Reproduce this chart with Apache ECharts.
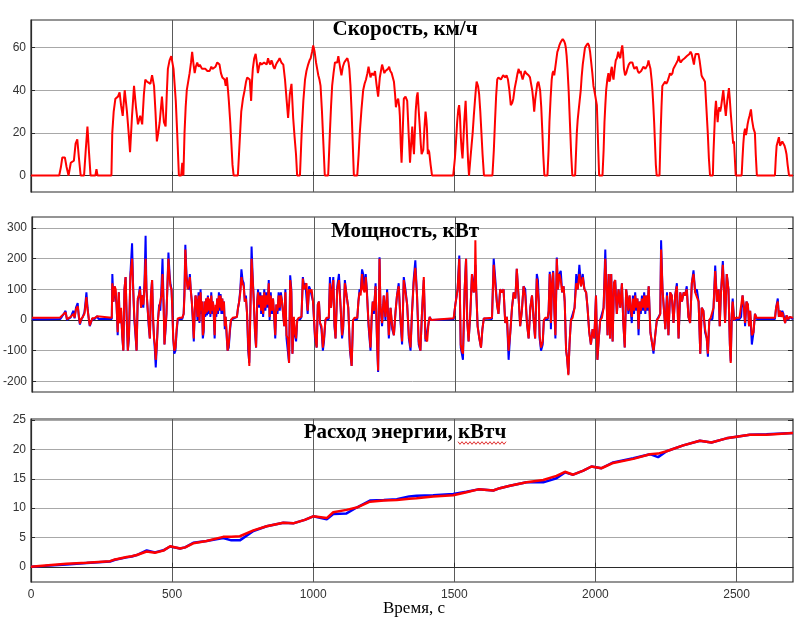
<!DOCTYPE html>
<html>
<head>
<meta charset="utf-8">
<script src="https://cdn.jsdelivr.net/npm/echarts@6/dist/echarts.min.js"></script>
<style>
  html, body { margin: 0; padding: 0; background: #fff; }
  #chart { width: 796px; height: 621px; }
</style>
</head>
<body>
<div id="chart"></div>
<script>
// ---- Time axis ----
const timeTicks = [0, 500, 1000, 1500, 2000, 2500];

// ---- Speed, km/h ----
const speedTicks = [0, 20, 40, 60];
const speedTime = [
  0,100,106,111,120,126,133,137,141,146,152,158,164,170,176,188,194,200,205,211,
  228,232,236,285,288,293,299,308,314,319,325,332,340,346,351,358,365,372,379,387,
  394,400,405,411,417,423,429,436,441,446,451,456,464,468,471,477,481,485,491,497,
  505,513,518,521,524,532,536,540,544,548,552,557,562,567,571,576,580,584,589,594,
  598,602,606,612,618,625,633,639,643,648,654,660,668,673,678,686,690,694,698,701,
  706,710,714,718,733,737,741,745,751,757,762,766,771,775,780,783,786,791,796,800,
  804,808,812,817,822,826,830,835,840,844,848,852,855,859,863,868,872,877,881,887,
  894,900,906,911,917,923,929,934,939,943,953,959,965,971,976,982,987,991,996,1000,
  1005,1010,1014,1018,1022,1026,1031,1036,1041,1053,1059,1063,1067,1072,1077,1081,1085,1089,1092,1096,
  1100,1105,1110,1115,1121,1125,1128,1132,1136,1140,1144,1156,1161,1165,1171,1177,1182,1187,1192,1196,
  1200,1203,1207,1210,1214,1219,1224,1230,1236,1240,1244,1248,1252,1256,1260,1265,1269,1273,1278,1282,
  1286,1290,1293,1297,1301,1305,1307,1310,1313,1317,1321,1327,1333,1338,1343,1347,1351,1354,1357,1360,
  1363,1367,1370,1374,1378,1381,1384,1387,1390,1394,1398,1401,1403,1406,1408,1411,1416,1421,1496,1502,
  1506,1510,1514,1517,1520,1523,1526,1529,1532,1535,1540,1543,1546,1549,1552,1555,1557,1561,1565,1569,
  1573,1576,1579,1584,1588,1592,1596,1600,1605,1635,1640,1644,1648,1652,1656,1661,1665,1670,1673,1677,
  1681,1685,1690,1695,1700,1705,1709,1714,1720,1724,1728,1731,1735,1738,1742,1746,1750,1754,1758,1763,
  1768,1772,1776,1780,1783,1787,1791,1794,1798,1801,1804,1808,1812,1815,1819,1830,1834,1837,1841,1845,
  1848,1851,1854,1857,1861,1865,1868,1872,1875,1879,1884,1889,1892,1895,1898,1901,1905,1908,1911,1914,
  1918,1928,1931,1934,1937,1940,1944,1948,1951,1955,1959,1963,1968,1973,1977,1981,1985,1989,1993,1996,
  2002,2005,2007,2010,2013,2025,2029,2032,2035,2038,2042,2046,2049,2052,2055,2058,2061,2064,2068,2072,
  2076,2081,2084,2088,2091,2095,2098,2101,2105,2109,2113,2118,2123,2127,2131,2135,2138,2142,2146,2150,
  2154,2158,2162,2166,2170,2173,2177,2182,2185,2188,2191,2195,2199,2202,2205,2208,2211,2214,2217,2227,
  2229,2231,2234,2237,2242,2247,2251,2255,2260,2264,2268,2273,2276,2280,2284,2288,2292,2295,2298,2302,
  2307,2312,2316,2320,2324,2329,2333,2337,2341,2345,2349,2352,2355,2360,2365,2369,2373,2376,2379,2384,
  2388,2393,2398,2402,2406,2416,2418,2421,2424,2427,2430,2433,2436,2439,2442,2445,2449,2453,2457,2462,
  2464,2467,2470,2473,2476,2479,2482,2485,2488,2491,2494,2497,2518,2521,2524,2527,2530,2533,2535,2539,
  2542,2546,2551,2555,2560,2565,2568,2572,2636,2639,2642,2646,2650,2654,2658,2662,2666,2670,2674,2677,
  2681,2686,2700
];
const speedKmh = [
  0,0,4,8.5,8.5,4,0,0,6,5.5,7,15,17,8,0,0,12,23,12,0,
  0,3,0,0,20,30,36,37,39,33,28,40,30,20,11,28,42,32,24,28,
  24,38,45,44,44,43,47,42,30,16,20,25,37,30,25,23,38,50,54,56,
  50,35,20,10,0,0,6,0,20,32,40,44,48,53,58,52,48,51,53,51,
  52,51,50,50,50,49,49,51,50,50,51,53,52,48,46,45,42,46,40,35,
  25,15,5,0,0,10,20,30,36,40,44,46,46,45,35,44,50,55,57,53,
  48,51,53,52,52,53,53,52,55,53,52,54,53,51,50,52,53,54,55,53,
  52,45,35,27,38,43,27,18,10,0,0,20,35,45,49,52,54,55,58,61,
  58,53,50,47,45,42,30,15,0,0,20,32,42,48,53,53,53,56,56,50,
  47,51,53,54,55,53,50,42,30,15,0,0,10,20,31,40,43,45,48,51,
  48,46,48,48,47,49,43,37,46,49,52,50,48,49,49,50,51,49,48,46,
  44,38,32,35,36,32,28,15,6,20,36,37,35,20,6,15,23,15,10,20,
  30,37,39,30,22,15,10,11,12,22,30,26,22,10,12,11,5,0,0,8,
  16,25,31,33,28,18,12,8,16,25,35,25,15,6,0,0,8,14,20,28,
  35,40,44,42,38,30,20,10,0,0,12,25,37,45,46,46,45,45,47,47,
  46,47,45,40,33,34,36,41,45,48,50,48,49,47,45,47,49,48,48,47,
  46,43,40,35,30,36,40,43,44,42,40,32,20,10,0,0,12,25,36,45,
  48,49,47,47,54,58,59,61,62,63,64,63,62,60,56,50,40,30,20,10,
  0,0,10,20,26,30,35,40,46,52,56,60,61,62,61,58,53,48,42,40,
  40,33,25,12,0,0,12,25,33,40,45,48,44,45,49,51,47,45,50,54,
  55,58,56,55,58,61,57,50,47,48,50,52,53,53,53,51,50,50,51,49,
  48,48,49,49,51,51,50,50,52,54,52,50,45,40,33,25,15,5,0,0,
  10,20,32,42,43,44,43,44,46,48,47,48,50,51,52,52,54,56,54,53,
  54,54,55,55,56,56,57,58,57,57,52,55,57,57,57,54,50,47,46,45,
  44,32,20,8,0,0,10,20,30,35,30,25,30,32,30,32,36,40,34,28,
  31,35,38,41,36,30,25,20,15,16,8,0,0,8,15,20,22,19,20,24,
  26,28,31,26,22,20,10,0,0,8,14,16,18,14,14,16,16,14,12,10,
  5,0,0
];

// ---- Power, kW ----
const powerTicks = [-200, -100, 0, 100, 200, 300];
const powerTime = [
  0,50,100,107,113,119,124,130,137,143,147,151,156,162,166,170,174,180,186,190,
  193,197,201,205,209,214,222,231,236,283,285,289,293,297,300,304,308,311,316,320,
  324,328,332,336,340,344,349,355,359,363,367,371,375,379,383,387,391,395,399,403,
  406,410,414,418,422,426,430,433,436,439,443,447,451,455,459,463,467,470,474,477,
  480,484,488,491,495,498,501,505,509,513,517,525,533,538,541,544,548,552,556,560,
  563,567,571,574,577,580,584,587,591,594,598,601,603,606,609,612,615,618,621,624,
  627,630,633,636,639,642,645,648,651,654,657,660,663,666,669,672,675,678,681,684,
  687,691,694,698,702,706,712,727,731,735,739,743,747,751,755,759,763,767,771,775,
  779,783,787,791,795,799,802,806,810,813,817,820,824,828,832,836,840,843,847,851,
  855,859,863,867,871,875,879,883,887,891,895,899,903,907,912,916,920,924,929,933,
  937,941,946,952,956,961,965,970,974,978,983,987,992,997,1004,1010,1014,1018,1022,1027,
  1032,1036,1041,1045,1053,1057,1061,1065,1069,1073,1077,1083,1089,1095,1100,1104,1110,1116,1122,1128,
  1134,1139,1144,1154,1158,1162,1166,1171,1175,1180,1184,1188,1194,1201,1205,1209,1213,1219,1224,1228,
  1233,1236,1242,1248,1254,1260,1266,1272,1278,1284,1290,1295,1301,1307,1313,1319,1325,1331,1337,1343,
  1348,1354,1360,1366,1372,1378,1384,1390,1396,1402,1407,1411,1416,1421,1496,1502,1510,1516,1521,1525,
  1529,1535,1540,1544,1549,1555,1561,1567,1571,1573,1576,1581,1587,1593,1598,1603,1608,1632,1638,1644,
  1650,1655,1661,1667,1673,1679,1685,1691,1697,1703,1709,1715,1720,1726,1732,1738,1744,1750,1756,1762,
  1768,1774,1779,1785,1791,1795,1798,1801,1806,1812,1816,1821,1830,1833,1837,1841,1845,1849,1853,1857,
  1862,1866,1871,1876,1881,1886,1890,1895,1898,1903,1907,1912,1918,1925,1931,1936,1942,1948,1954,1960,
  1966,1971,1977,1983,1989,1995,2001,2006,2011,2016,2022,2028,2034,2038,2042,2046,2051,2055,2060,2065,
  2069,2075,2081,2087,2093,2098,2103,2108,2112,2116,2120,2124,2128,2132,2136,2140,2144,2148,2152,2156,
  2160,2164,2168,2172,2176,2180,2184,2188,2194,2199,2205,2210,2217,2223,2229,2232,2237,2242,2247,2253,
  2258,2264,2270,2276,2282,2288,2294,2300,2306,2312,2317,2323,2329,2335,2341,2347,2353,2359,2365,2371,
  2376,2382,2388,2394,2398,2403,2408,2414,2418,2424,2430,2436,2440,2444,2451,2455,2459,2465,2471,2476,
  2479,2483,2486,2491,2497,2510,2516,2521,2526,2530,2535,2540,2544,2548,2554,2560,2565,2571,2636,2640,
  2646,2650,2654,2658,2662,2666,2672,2677,2683,2688,2694,2700
];
const powerModel = [
  2,2,3,12,20,30,0,5,8,22,30,5,40,55,10,-15,0,10,25,60,
  90,40,5,-20,-25,5,3,12,3,3,150,60,110,110,50,-50,90,-10,30,-50,
  -100,100,140,0,-100,-60,150,250,100,0,-50,-100,60,80,110,40,80,40,120,275,
  100,40,-20,-60,80,130,-10,-60,-100,-155,-80,0,50,30,100,200,50,-80,-30,20,
  100,220,150,120,100,30,-60,-110,-100,-40,0,3,3,20,100,245,150,110,100,150,
  100,60,-10,-70,20,80,60,0,90,-10,100,20,60,-60,-40,60,10,70,15,80,
  20,60,10,90,20,60,10,-60,40,10,70,20,90,30,85,20,70,20,60,-30,
  10,-60,-100,-90,-40,0,3,10,40,60,100,165,130,120,60,80,20,-100,-140,50,
  240,140,60,-40,-90,60,100,40,90,20,80,10,100,30,90,40,130,0,90,20,
  70,10,-60,50,20,90,30,90,60,20,-20,100,-60,-60,-140,146,100,-110,0,-50,
  -70,0,3,3,10,140,110,120,120,20,110,100,100,60,-60,-90,50,60,-10,-30,
  -100,-70,0,3,3,140,40,100,140,-20,-60,110,150,40,-60,-30,130,80,40,-100,
  -150,0,3,3,60,100,90,165,150,100,150,100,-20,-100,0,60,20,120,-70,-170,
  205,50,-20,80,0,100,-60,40,-30,-50,30,80,120,0,-80,140,100,50,-60,-100,
  20,130,195,80,-80,-100,30,130,-70,-70,-10,10,0,2,2,50,100,210,-90,-110,
  -130,100,200,0,-70,20,150,90,150,180,100,-20,-60,-90,-30,5,3,3,200,130,
  50,20,100,90,100,-10,10,-130,-40,40,90,70,167,80,-20,30,110,100,-10,-60,
  40,80,10,-60,150,130,60,-60,-100,-80,0,3,3,30,157,-30,120,160,40,-60,
  204,100,150,160,90,110,60,-100,-120,-176,-80,0,3,40,150,100,180,110,150,100,
  90,40,-40,-80,-30,-60,80,-130,-60,0,3,40,230,100,-50,150,-60,150,-70,120,
  130,20,100,40,120,-10,-90,100,70,20,80,30,-10,80,20,90,30,70,-50,60,
  20,80,30,90,20,80,30,110,-40,-70,-110,-60,0,3,20,260,100,100,-30,90,
  -50,90,80,-10,80,120,-60,90,60,90,80,110,10,-10,120,162,90,100,60,-110,
  40,30,-40,-60,-120,0,3,3,40,178,60,100,-20,80,192,100,-10,150,100,-80,
  -135,20,70,0,3,3,10,80,40,-20,60,50,-20,30,-80,-40,20,3,3,40,
  70,10,30,10,30,20,-10,15,0,10,5,3
];
const powerMeasured = [
  7,7,8,15,18,25,3,6,10,15,20,8,35,45,15,-12,2,10,20,50,
  75,35,8,-18,-22,6,6,12,6,7,120,60,110,100,50,-40,90,-10,40,-50,
  -100,100,140,10,-100,-50,140,200,100,10,-40,-100,70,80,100,40,80,50,110,200,
  100,40,-10,-60,80,130,0,-60,-80,-130,-80,0,40,40,80,150,40,-80,-20,20,
  100,200,140,110,100,30,-60,-100,-90,-30,5,7,7,20,80,230,140,100,100,140,
  100,60,0,-60,20,80,60,10,80,-5,90,30,60,-50,-30,60,20,70,25,75,
  30,70,20,80,30,60,20,-50,50,20,70,30,80,40,80,30,70,30,60,-20,
  10,-50,-100,-80,-30,0,7,10,40,60,90,140,120,110,60,70,20,-80,-150,40,
  200,130,60,-30,-90,60,90,50,80,30,80,20,90,40,80,50,120,10,80,30,
  70,20,-50,50,30,80,40,80,60,20,-20,90,-50,-60,-140,130,90,-110,10,-40,
  -60,0,7,7,10,135,100,110,120,30,100,90,100,60,-50,-90,50,60,-10,-20,
  -90,-60,0,7,7,120,40,90,130,-10,-60,100,130,40,-50,-20,120,80,40,-90,
  -150,0,7,7,60,90,80,150,100,90,140,90,-10,-90,10,60,30,110,-60,-165,
  200,50,-10,80,10,90,-50,40,-20,-50,30,80,110,10,-70,130,90,50,-50,-90,
  20,120,170,80,-70,-100,30,140,-60,-70,-10,10,0,6,6,50,100,200,-80,-100,
  -110,100,200,0,-70,20,150,90,100,260,100,-20,-60,-90,-30,5,7,7,180,110,
  50,20,100,90,100,-10,10,-100,-40,40,90,70,167,80,-20,30,110,80,-10,-60,
  40,80,10,-60,135,130,60,-50,-90,-70,0,7,7,30,150,-10,120,155,40,-50,
  200,100,150,130,90,110,60,-100,-120,-180,-80,0,7,40,120,100,150,110,140,100,
  90,40,-40,-80,-30,-60,80,-130,-60,0,7,40,200,100,-50,150,-60,150,-70,120,
  130,20,100,40,120,-10,-90,100,70,30,80,40,10,70,30,80,40,70,-30,60,
  30,70,40,80,30,80,40,110,-40,-70,-100,-60,0,7,20,230,100,100,-30,80,
  -50,90,80,-10,80,110,-60,90,60,90,80,100,10,-10,120,150,90,90,60,-110,
  40,30,-30,-60,-110,0,7,7,40,160,60,100,-20,80,180,100,-10,150,100,-80,
  -140,20,60,0,7,7,10,80,40,-10,60,50,-20,30,-50,-40,20,7,7,40,
  60,10,30,10,25,20,-10,15,2,10,7,7
];

// ---- Energy consumption, kWh ----
const energyTicks = [0, 5, 10, 15, 20, 25];
const energyTime = [
  0,50,126,197,280,298,339,357,375,410,439,469,493,528,546,575,622,681,710,740,
  788,835,894,929,970,1000,1048,1071,1118,1154,1201,1250,1296,1340,1366,1425,1496,1543,1585,1638,
  1661,1697,1756,1815,1862,1892,1921,1957,1986,2021,2063,2134,2193,2222,2252,2311,2370,2411,2464,2488,
  2547,2606,2700
];
const energyModel = [
  0,0.15,0.4,0.65,0.9,1.2,1.6,1.75,2.0,2.8,2.45,2.8,3.45,3.1,3.3,4.1,4.4,4.9,4.5,4.5,
  6.1,6.9,7.5,7.4,8.0,8.6,8.1,9.0,9.1,10.1,11.3,11.4,11.5,12.0,12.1,12.2,12.4,12.8,13.2,13.0,
  13.4,13.8,14.4,14.4,15.1,16.1,15.7,16.4,17.1,16.8,17.8,18.5,19.2,18.7,19.7,20.7,21.5,21.2,21.9,22.1,
  22.5,22.6,22.8
];
const energyMeasured = [
  0,0.2,0.5,0.7,0.95,1.25,1.65,1.8,2.0,2.6,2.4,2.75,3.5,3.1,3.3,4.0,4.4,5.1,5.1,5.2,
  6.2,6.9,7.5,7.4,8.0,8.6,8.3,9.3,9.7,10.1,11.1,11.3,11.4,11.6,11.7,12.0,12.2,12.7,13.2,13.0,
  13.4,13.8,14.4,14.8,15.5,16.2,15.7,16.4,17.1,16.8,17.7,18.4,19.2,19.3,19.7,20.7,21.5,21.2,21.9,22.1,
  22.5,22.5,22.8
];

const panelTitles = ['Скорость, км/ч', 'Мощность, кВт', 'Расход энергии, кВтч'];
const timeLabel = 'Время, с';

function pairs(t, v) { return t.map((x, i) => [x, v[i]]); }
const plain = v => String(v);

const BLUE = '#0000ff';
const RED = '#ff0000';
const gridLineH = '#a8a8a8';
const gridLineV = '#5a5a5a';
const frame = '#2a2a2a';
const labelFont = { fontFamily: 'Liberation Sans, Arial, sans-serif', fontSize: 12, color: '#333', formatter: plain };

const grids = [
  { left: 31, top: 20, width: 762, height: 172 },
  { left: 31, top: 217, width: 762, height: 175 },
  { left: 31, top: 419, width: 762, height: 163 }
].map(g => Object.assign({ show: true, borderColor: frame, borderWidth: 1.2, backgroundColor: '#fff' }, g));

const yRanges = [
  { min: -7.7, max: 72.9, ticks: speedTicks },
  { min: -235, max: 336, ticks: powerTicks },
  { min: -2.6, max: 25.2, ticks: energyTicks }
];

const xAxes = grids.map((g, i) => ({
  type: 'value', gridIndex: i, min: 0, max: 2700,
  axisLine: { show: true, lineStyle: { color: frame, width: 1.2 } },
  axisTick: { show: true, inside: true, length: 4, customValues: timeTicks, lineStyle: { color: frame } },
  axisLabel: Object.assign({ show: i === 2, customValues: timeTicks, margin: 7 }, labelFont),
  splitLine: { show: true, lineStyle: { color: gridLineV, width: 1 } }
}));

const yAxes = [];
yRanges.forEach((r, i) => {
  yAxes.push({
    type: 'value', gridIndex: i, position: 'left', min: r.min, max: r.max,
    axisLine: { show: true, lineStyle: { color: frame, width: 1.2 } },
    axisTick: { show: true, inside: true, length: 4, customValues: r.ticks, lineStyle: { color: frame } },
    axisLabel: Object.assign({ show: true, customValues: r.ticks, margin: 5 }, labelFont),
    splitLine: { show: true, lineStyle: { color: gridLineH, width: 1 } }
  });
  yAxes.push({
    type: 'value', gridIndex: i, position: 'right', min: r.min, max: r.max,
    axisLine: { show: false },
    axisTick: { show: true, inside: true, length: 5, customValues: r.ticks, lineStyle: { color: frame } },
    axisLabel: { show: false },
    splitLine: { show: false }
  });
});

function line(name, data, color, xi, yi, width) {
  return {
    name, type: 'line', xAxisIndex: xi, yAxisIndex: yi, data,
    showSymbol: false, symbol: 'none', smooth: false,
    lineStyle: { color, width }, itemStyle: { color },
    silent: true, animation: false
  };
}

const series = [
  line('speed', pairs(speedTime, speedKmh), RED, 0, 0, 2),
  line('power-model', pairs(powerTime, powerModel), BLUE, 1, 2, 2),
  line('power-measured', pairs(powerTime, powerMeasured), RED, 1, 2, 2),
  line('energy-model', pairs(energyTime, energyModel), BLUE, 2, 4, 2.5),
  line('energy-measured', pairs(energyTime, energyMeasured), RED, 2, 4, 2.5)
];

// red wavy spell-check underline under the last word of the third heading
const wave = [];
for (let x = 458, k = 0; x <= 507; x += 2, k++) wave.push([x, 443 + (k % 2 ? 1.3 : -1.3)]);

const titleCenters = [30, 232, 433];
const graphics = panelTitles.map((t, i) => ({
  type: 'text', x: 405, y: titleCenters[i], z: 100,
  style: {
    text: t, x: 0, y: 0, align: 'center', verticalAlign: 'middle',
    font: 'bold 21px "Liberation Serif", "Times New Roman", serif', fill: '#000'
  }
}));
graphics.push({
  type: 'text', x: 414, y: 609, z: 100,
  style: {
    text: timeLabel, align: 'center', verticalAlign: 'middle',
    font: '17px "Liberation Serif", "Times New Roman", serif', fill: '#000'
  }
});
graphics.push({
  type: 'polyline', z: 101, shape: { points: wave },
  style: { stroke: '#e03030', lineWidth: 1, fill: null }
});

const chart = echarts.init(document.getElementById('chart'), null, { renderer: 'canvas' });
chart.setOption({
  animation: false,
  backgroundColor: '#fff',
  grid: grids,
  xAxis: xAxes,
  yAxis: yAxes,
  series,
  graphic: graphics
});
</script>
</body>
</html>
